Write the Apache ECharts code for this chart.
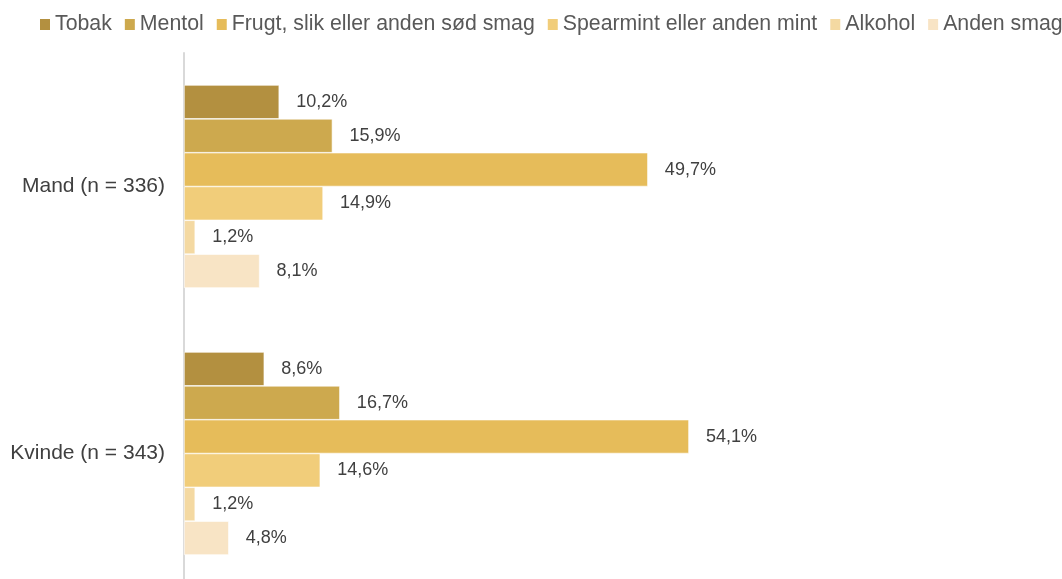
<!DOCTYPE html>
<html>
<head>
<meta charset="utf-8">
<script src="https://cdn.jsdelivr.net/npm/echarts@6/dist/echarts.min.js"></script>
<style>
  html, body { margin: 0; padding: 0; background: #fff; overflow: hidden; }
  #chart { width: 1062px; height: 590px; }
</style>
</head>
<body>
<div id="chart"></div>
<script>
  // kategorier (y-akse)
  var categories = ['Mand (n = 336)', 'Kvinde (n = 343)'];
  var seriesNames = ['Tobak', 'Mentol', 'Frugt, slik eller anden sød smag', 'Spearmint eller anden mint', 'Alkohol', 'Anden smag'];
  var tobak = [10.2, 8.6];
  var mentol = [15.9, 16.7];
  var frugt = [49.7, 54.1];
  var spearmint = [14.9, 14.6];
  var alkohol = [1.2, 1.2];
  var andenSmag = [8.1, 4.8];
  var colorList = ['#b39040', '#cda94e', '#e6bc5a', '#f1cd7a', '#f4d9a2', '#f8e4c5'];

  var chart = echarts.init(document.getElementById('chart'));
  var values = [tobak, mentol, frugt, spearmint, alkohol, andenSmag];
  var series = [];
  for (var i = 0; i < values.length; i++) {
    series.push({
      type: 'bar',
      name: seriesNames[i],
      data: values[i],
      barGap: '0%',
      barCategoryGap: '24%',
      itemStyle: { color: colorList[i], borderColor: '#ffffff', borderWidth: 0.6 },
      label: {
        show: true,
        position: 'right',
        distance: 17,
        color: '#404040',
        fontSize: 18,
        fontFamily: 'Liberation Sans',
        formatter: function (p) { return p.value.toFixed(1).replace('.', ',') + '%'; }
      }
    });
  }

  var option = {
    animation: false,
    color: colorList,
    legend: {
      data: seriesNames,
      left: 35,
      top: 9,
      width: 1200,
      itemWidth: 10,
      itemHeight: 11,
      itemGap: 13,
      icon: 'rect',
      itemStyle: { borderWidth: 0 },
      textStyle: { color: '#595959', fontSize: 21.3, fontFamily: 'Liberation Sans' }
    },
    grid: { left: 184, top: 53, width: 560, height: 534 },
    xAxis: {
      type: 'value',
      min: 0,
      max: 60,
      show: false,
      splitLine: { show: false }
    },
    yAxis: {
      type: 'category',
      inverse: true,
      data: categories,
      axisTick: { show: false },
      axisLine: { show: true, lineStyle: { color: '#d9d9d9', width: 2 } },
      axisLabel: { color: '#404040', fontSize: 21, fontFamily: 'Liberation Sans', margin: 19 }
    },
    series: series
  };
  chart.setOption(option);
</script>
</body>
</html>
